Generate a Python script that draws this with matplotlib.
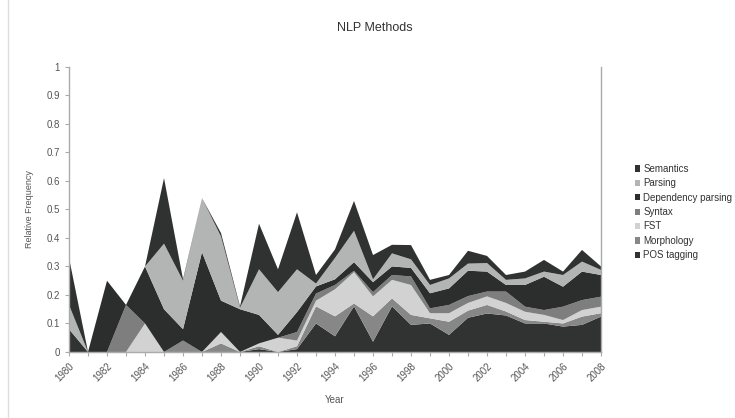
import numpy as np
import matplotlib.pyplot as plt

plt.rcParams["font.family"] = ["Liberation Sans", "DejaVu Sans"]

years = list(range(1980, 2009))

# values, one per year (stacked bottom -> top)
pos_tagging = [0.08, 0, 0, 0, 0, 0, 0, 0, 0, 0, 0.01, 0, 0.01, 0.10, 0.055, 0.16, 0.036,
               0.16, 0.095, 0.10, 0.06, 0.12, 0.135, 0.128, 0.10, 0.10, 0.089, 0.095, 0.124]
morphology = [0, 0, 0, 0, 0, 0, 0.04, 0, 0.03, 0, 0.01, 0, 0.01, 0.06, 0.07, 0.01, 0.089,
              0.028, 0.035, 0.018, 0.046, 0.025, 0.03, 0.014, 0.012, 0.006, 0.011, 0.029, 0.012]
fst = [0, 0, 0, 0, 0.10, 0, 0, 0, 0.04, 0, 0.01, 0.05, 0.02, 0.02, 0.095, 0.11, 0.07,
       0.065, 0.105, 0.018, 0.03, 0.027, 0.03, 0.03, 0.029, 0.024, 0.012, 0.023, 0.023]
syntax = [0, 0, 0, 0.165, 0, 0, 0, 0, 0, 0, 0, 0, 0.03, 0.025, 0.015, 0.005, 0.015,
          0.017, 0.03, 0.017, 0.029, 0.024, 0.017, 0.04, 0.018, 0.017, 0.047, 0.035, 0.035]
dependency = [0, 0, 0.25, 0, 0.20, 0.15, 0.04, 0.35, 0.11, 0.15, 0.10, 0.01, 0.07, 0.025, 0.02, 0.03, 0.035,
              0.03, 0.03, 0.053, 0.058, 0.089, 0.07, 0.023, 0.076, 0.117, 0.07, 0.10, 0.076]
parsing = [0.085, 0, 0, 0, 0, 0.23, 0.17, 0.19, 0.225, 0.005, 0.16, 0.15, 0.15, 0.01, 0.075, 0.11, 0.01,
           0.046, 0.03, 0.029, 0.035, 0.025, 0.03, 0.018, 0.023, 0.018, 0.041, 0.035, 0.018]
semantics = [0.165, 0, 0, 0, 0, 0.23, 0.005, 0, 0.012, 0.005, 0.16, 0.08, 0.20, 0.03, 0.03, 0.105, 0.085,
             0.03, 0.05, 0.018, 0.012, 0.045, 0.025, 0.017, 0.024, 0.041, 0.012, 0.041, 0.012]

labels = ["POS tagging", "Morphology", "FST", "Syntax", "Dependency parsing", "Parsing", "Semantics"]
colors = ["#313232", "#878787", "#d2d2d2", "#7e7e7e", "#2c2d2d", "#b3b4b4", "#303131"]

fig = plt.figure(figsize=(7.35, 4.18), dpi=100)
ax = fig.add_axes([0.0939, 0.158, 0.7238, 0.6818])

ax.stackplot(years, pos_tagging, morphology, fst, syntax, dependency, parsing, semantics,
             labels=labels, colors=colors, linewidth=0)

ax.set_xlim(1980, 2008)
ax.set_ylim(0, 1)
ax.set_yticks(np.arange(0, 1.01, 0.1))
ax.set_yticklabels(["0"] + [f"{v:.1f}" for v in np.arange(0.1, 0.95, 0.1)] + ["1"])
ax.set_xticks(years, minor=True)
ax.set_xticks(years[::2])
ax.set_xticklabels([str(y) for y in years[::2]], rotation=45, ha="right", rotation_mode="anchor")
ax.tick_params(axis="both", which="both", labelsize=7, colors="#aaaaaa", labelcolor="#555555",
               length=3, width=0.8, direction="out")

for side in ["left", "bottom", "right"]:
    ax.spines[side].set_color("#aaaaaa")
    ax.spines[side].set_linewidth(1.0)
ax.spines["top"].set_visible(False)

ax.set_xlabel("Year", fontsize=7, color="#555555", labelpad=8)
ax.set_ylabel("Relative Frequency", fontsize=6.5, color="#555555", labelpad=9)
fig.text(0.51, 0.932, "NLP Methods", ha="center", va="center", fontsize=9, color="#333333")

handles, lbls = ax.get_legend_handles_labels()
leg = fig.legend(handles[::-1], lbls[::-1], loc="upper left", bbox_to_anchor=(0.858, 0.617),
                 frameon=False, fontsize=7, handlelength=0.6, handleheight=0.6,
                 handletextpad=0.3, labelspacing=0.45, borderaxespad=0)
for t in leg.get_texts():
    t.set_color("#333333")

# faint frame line at the left edge of the picture
fig.add_artist(plt.Line2D([0.011, 0.011], [0.0, 1.0], color="#dddddd", linewidth=1))

fig.savefig("out.png", dpi=100)
